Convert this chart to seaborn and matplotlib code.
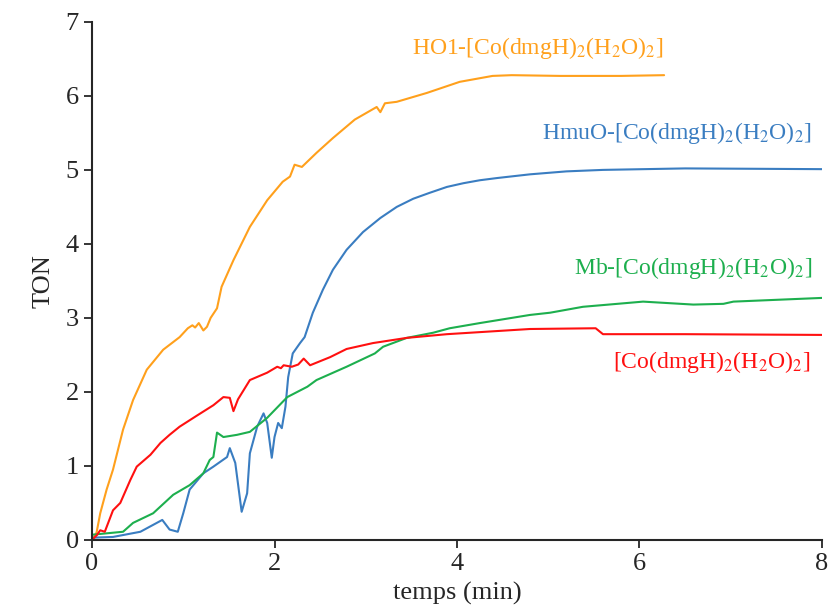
import matplotlib
matplotlib.use("Agg")
import matplotlib.pyplot as plt
import pandas as pd
import seaborn as sns

# TON vs time
ho1_t = [0, 0.05, 0.09, 0.16, 0.23, 0.34, 0.45, 0.6, 0.78, 0.96, 1.05, 1.1, 1.13, 1.17, 1.22, 1.26,
         1.3, 1.37, 1.42, 1.55, 1.73, 1.92, 2.09, 2.17, 2.22, 2.3, 2.46, 2.64, 2.88, 3.12, 3.16,
         3.21, 3.34, 3.67, 4.03, 4.39, 4.6, 5.13, 5.8, 6.27]
ho1_ton = [0, 0.1, 0.36, 0.68, 0.95, 1.49, 1.89, 2.3, 2.57, 2.74, 2.86, 2.9, 2.87, 2.93, 2.83, 2.88,
           3.0, 3.13, 3.42, 3.78, 4.23, 4.59, 4.84, 4.91, 5.07, 5.04, 5.23, 5.43, 5.68, 5.85, 5.78,
           5.9, 5.92, 6.04, 6.19, 6.27, 6.28, 6.27, 6.27, 6.28]

hmuo_t = [0, 0.23, 0.53, 0.71, 0.77, 0.85, 0.94, 1.0, 1.07, 1.22, 1.33, 1.48, 1.51, 1.57, 1.64, 1.7,
          1.73, 1.81, 1.88, 1.92, 1.97, 2.0, 2.04, 2.08, 2.12, 2.15, 2.2, 2.28, 2.33, 2.42, 2.53, 2.64,
          2.79, 2.97, 3.16, 3.34, 3.52, 3.7, 3.89, 4.07, 4.25, 4.44, 4.8, 5.2, 5.6, 6.5, 8.0]
hmuo_ton = [0.03, 0.04, 0.11, 0.23, 0.27, 0.14, 0.11, 0.36, 0.68, 0.9, 0.99, 1.12, 1.24, 1.04, 0.38, 0.63,
            1.17, 1.53, 1.71, 1.58, 1.11, 1.39, 1.58, 1.51, 1.8, 2.2, 2.52, 2.66, 2.74, 3.07, 3.38, 3.65,
            3.92, 4.16, 4.35, 4.5, 4.61, 4.69, 4.77, 4.82, 4.86, 4.89, 4.94, 4.98, 5.0, 5.02, 5.01]

mb_t = [0, 0.34, 0.45, 0.67, 0.89, 1.07, 1.22, 1.29, 1.33, 1.37, 1.44, 1.59, 1.73, 1.92, 2.14, 2.36,
        2.46, 2.79, 3.1, 3.19, 3.45, 3.74, 3.92, 4.25, 4.8, 5.02, 5.38, 6.04, 6.59, 6.92, 7.03, 8.0]
mb_ton = [0.07, 0.11, 0.23, 0.36, 0.61, 0.74, 0.9, 1.08, 1.12, 1.45, 1.39, 1.42, 1.46, 1.65, 1.93, 2.07,
          2.16, 2.34, 2.52, 2.61, 2.73, 2.8, 2.86, 2.93, 3.04, 3.07, 3.15, 3.22, 3.18, 3.19, 3.22, 3.27]

co_t = [0, 0.05, 0.09, 0.14, 0.23, 0.31, 0.42, 0.49, 0.64, 0.75, 0.85, 0.96, 1.15, 1.33, 1.44, 1.51,
        1.55, 1.6, 1.66, 1.73, 1.92, 2.03, 2.07, 2.1, 2.19, 2.26, 2.32, 2.39, 2.61, 2.79, 3.08, 3.45,
        3.89, 4.8, 5.52, 5.6, 6.5, 8.0]
co_ton = [0, 0.06, 0.13, 0.11, 0.4, 0.5, 0.81, 0.99, 1.15, 1.31, 1.42, 1.53, 1.68, 1.82, 1.93, 1.92,
          1.74, 1.9, 2.02, 2.16, 2.26, 2.34, 2.32, 2.36, 2.34, 2.37, 2.45, 2.36, 2.47, 2.58, 2.66, 2.73,
          2.78, 2.85, 2.86, 2.78, 2.78, 2.77]

labels = [r"HO1-[Co(dmgH)$_2$(H$_2$O)$_2$]",
          r"HmuO-[Co(dmgH)$_2$(H$_2$O)$_2$]",
          r"Mb-[Co(dmgH)$_2$(H$_2$O)$_2$]",
          r"[Co(dmgH)$_2$(H$_2$O)$_2$]"]
colors = ["#FFA01C", "#3A7DC1", "#1DAF4E", "#FF1010"]
label_x = [6.26, 7.89, 7.89, 7.87]
label_y = [6.65, 5.5, 3.68, 2.41]

sns.set_style("ticks")
plt.rcParams["font.family"] = ["Liberation Serif", "DejaVu Serif"]
plt.rcParams["mathtext.fontset"] = "stix"

fig, ax = plt.subplots(figsize=(8.29, 6.08), dpi=100)
fig.subplots_adjust(left=0.111, right=0.9915, bottom=0.112, top=0.964)

series = [(ho1_t, ho1_ton), (hmuo_t, hmuo_ton), (mb_t, mb_ton), (co_t, co_ton)]
for (t, ton), c in zip(series, colors):
    df = pd.DataFrame({"t": t, "ton": ton})
    sns.lineplot(data=df, x="t", y="ton", color=c, linewidth=1.5, estimator=None, ax=ax)

for lab, c, lx, ly in zip(labels, colors, label_x, label_y):
    ax.text(lx, ly, lab, color=c, fontsize=17, ha="right", va="center")

ax.set_xlim(0, 8)
ax.set_ylim(0, 7)
ax.set_xticks([0, 2, 4, 6, 8])
ax.set_yticks(range(0, 8))
ax.tick_params(labelsize=19, length=6, width=1.3, direction="out")
ax.set_xlabel("temps (min)", fontsize=19, labelpad=5)
ax.set_ylabel("TON", fontsize=19, labelpad=8)
for s in ["left", "bottom"]:
    ax.spines[s].set_linewidth(1.5)
sns.despine(ax=ax)

fig.savefig("out.png", dpi=100)
